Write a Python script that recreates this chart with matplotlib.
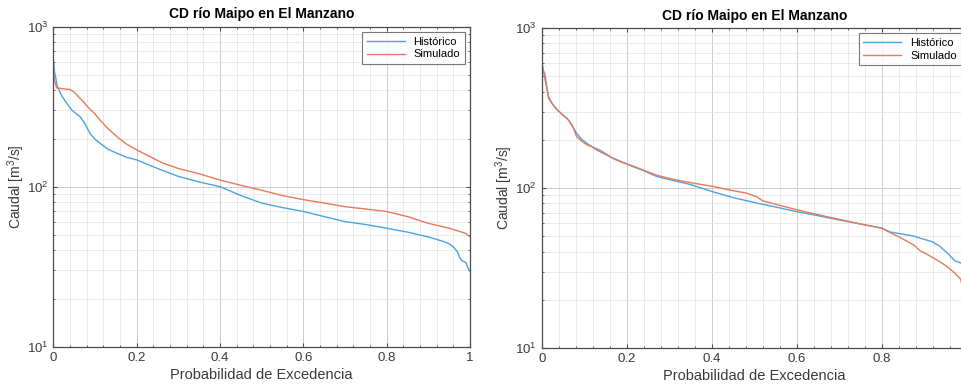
import matplotlib
matplotlib.use('Agg')
import matplotlib.pyplot as plt
from matplotlib.ticker import MultipleLocator, LogLocator

plt.rcParams['font.family'] = ['Liberation Sans', 'DejaVu Sans']
plt.rcParams['mathtext.default'] = 'regular'

title = 'CD río Maipo en El Manzano'
labels = ['Histórico', 'Simulado']

# panel izquierdo
left_hist_x = [0, 0.003, 0.01, 0.02, 0.032, 0.045, 0.064, 0.075, 0.088, 0.1, 0.112, 0.13,
               0.152, 0.175, 0.2, 0.25, 0.3, 0.35, 0.4, 0.45, 0.5, 0.55, 0.6, 0.65, 0.7,
               0.75, 0.8, 0.85, 0.9, 0.93, 0.95, 0.96, 0.97, 0.975, 0.98, 0.99, 0.995, 1.0]
left_hist_y = [620, 520, 420, 370, 333, 300, 274, 250, 215, 198, 187, 172, 162, 153, 147,
               130, 116, 107, 100, 88, 79, 74, 70, 65, 60.5, 58, 55, 52, 48.5, 46, 44, 42,
               39, 36, 34.6, 33.5, 31, 29.5]
left_sim_x = [0, 0.003, 0.008, 0.02, 0.04, 0.05, 0.06, 0.072, 0.085, 0.1, 0.112, 0.13,
              0.152, 0.175, 0.2, 0.23, 0.264, 0.3, 0.352, 0.4, 0.45, 0.5, 0.55, 0.6, 0.65,
              0.7, 0.75, 0.8, 0.85, 0.9, 0.95, 0.97, 0.99, 1.0]
left_sim_y = [540, 460, 415, 410, 405, 390, 366, 340, 310, 285, 261, 232, 206, 185, 170,
              155, 140, 130, 120, 110, 102, 95, 88, 83, 79, 75, 72.5, 70, 65, 59, 55, 53,
              51, 48.5]

# panel derecho
right_hist_x = [0, 0.004, 0.008, 0.016, 0.025, 0.035, 0.05, 0.059, 0.07, 0.082, 0.095,
                0.106, 0.13, 0.16, 0.19, 0.208, 0.24, 0.27, 0.31, 0.35, 0.4, 0.45, 0.5,
                0.55, 0.6, 0.65, 0.7, 0.75, 0.8, 0.82, 0.875, 0.89, 0.92, 0.937, 0.955,
                0.972, 0.985, 1.0]
right_hist_y = [620, 540, 473, 372, 335, 310, 285, 273, 250, 219, 200, 190, 172, 157, 145,
                138, 128, 118, 111, 105, 95, 87, 81, 76, 71, 67, 63, 59.5, 56, 53, 50, 48.5,
                46, 43, 39, 35, 34, 33]
right_sim_x = [0, 0.004, 0.008, 0.016, 0.025, 0.035, 0.05, 0.063, 0.075, 0.082, 0.095,
               0.106, 0.12, 0.137, 0.15, 0.169, 0.19, 0.208, 0.24, 0.27, 0.31, 0.357, 0.404,
               0.45, 0.48, 0.506, 0.52, 0.55, 0.6, 0.65, 0.7, 0.75, 0.8, 0.82, 0.843, 0.875,
               0.89, 0.91, 0.937, 0.955, 0.972, 0.985, 0.99, 0.995]
right_sim_y = [585, 540, 507, 363, 335, 310, 285, 266, 235, 209, 195, 186, 180, 172, 164,
               152, 144, 139, 129, 120, 113, 107, 102, 96, 93, 88, 83, 79, 73, 68, 63.5,
               59.5, 56, 52.5, 49, 44, 40.5, 38, 34.5, 32, 29.3, 27, 24, 20]

c_hist = '#4ba3e0'
c_sim = '#e8795a'
axis_col = '#4d4d4d'

fig = plt.figure(figsize=(9.61, 3.90), dpi=100)
ax1 = fig.add_axes([0.0555, 0.111, 0.4337, 0.8206])
ax2 = fig.add_axes([0.5637, 0.108, 0.4423, 0.8205])

panels = [(ax1, left_hist_x, left_hist_y, left_sim_x, left_sim_y),
          (ax2, right_hist_x, right_hist_y, right_sim_x, right_sim_y)]

for i, (ax, hx, hy, sx, sy) in enumerate(panels):
    ax.semilogy(hx, hy, color=c_hist, lw=1.0, label=labels[0])
    ax.semilogy(sx, sy, color=c_sim, lw=1.0, label=labels[1])
    ax.set_xlim(0, 1)
    ax.set_ylim(10, 1000)
    ax.xaxis.set_minor_locator(MultipleLocator(0.04))
    ax.yaxis.set_minor_locator(LogLocator(base=10, subs=range(2, 10)))
    ax.set_xticks([0, 0.2, 0.4, 0.6, 0.8, 1.0])
    # el panel derecho está recortado en el borde: sin etiqueta "1"
    xt = ['0', '0.2', '0.4', '0.6', '0.8', '1' if i == 0 else '']
    ax.set_xticklabels(xt)
    ax.grid(True, which='major', color='#cccccc', lw=0.7)
    ax.grid(True, which='minor', color='#e6e6e6', lw=0.6)
    ax.set_axisbelow(True)
    ax.tick_params(which='both', direction='in', top=True, right=True,
                   colors=axis_col, labelsize=9.5, labelcolor='#3a3a3a')
    ax.tick_params(which='major', length=3)
    ax.tick_params(which='minor', length=1.5)
    for sp in ax.spines.values():
        sp.set_color(axis_col)
        sp.set_linewidth(0.9)
    ax.set_title(title, fontsize=10, fontweight='bold', pad=6)
    ax.set_xlabel('Probabilidad de Excedencia', fontsize=10.5, color='#3a3a3a', labelpad=3)
    ax.set_ylabel('Caudal [m$^3$/s]', fontsize=10, color='#3a3a3a', labelpad=0)
    leg = ax.legend(loc='upper right', fontsize=8, frameon=True, fancybox=False,
                    handlelength=3.4, borderpad=0.4, labelspacing=0.25,
                    borderaxespad=0.5)
    leg.get_frame().set_edgecolor('#555555')
    leg.get_frame().set_linewidth(0.8)

fig.savefig('out.png', dpi=100)
